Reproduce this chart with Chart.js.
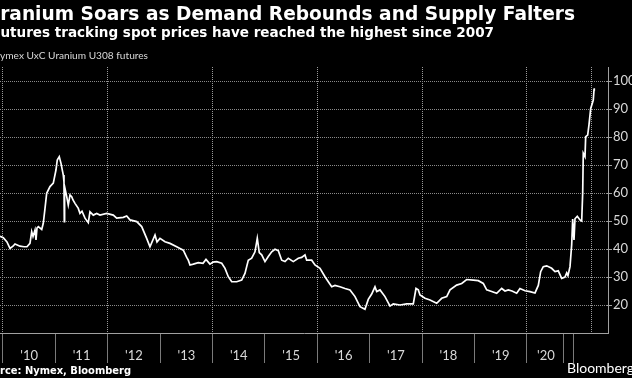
<!DOCTYPE html>
<html><head><meta charset="utf-8">
<script src="https://cdn.jsdelivr.net/npm/chart.js@4.4.0/dist/chart.umd.min.js"></script>
<style>html,body{margin:0;padding:0;background:#000;overflow:hidden}#wrap{position:relative;width:632px;height:378px}</style>
</head><body><div id="wrap"><canvas id="c"></canvas></div>
<script>
const titleText = "Uranium Soars as Demand Rebounds and Supply Falters";
const subtitleText = "Futures tracking spot prices have reached the highest since 2007";
const seriesName = "Nymex UxC Uranium U308 futures";
const sourceText = "Source: Nymex, Bloomberg";
const brandText = "Bloomberg";

// position along the drawn time axis (years) and price (USD/lb)
const positions = [2009.943,2010.006,2010.076,2010.134,2010.191,2010.229,2010.324,2010.401,2010.458,2010.515,2010.548,2010.573,2010.611,2010.630,2010.649,2010.674,2010.739,2010.769,2010.802,2010.834,2010.897,2010.960,2011.011,2011.036,2011.074,2011.107,2011.132,2011.151,2011.164,2011.170,2011.176,2011.216,2011.246,2011.279,2011.311,2011.336,2011.374,2011.437,2011.469,2011.508,2011.565,2011.628,2011.660,2011.723,2011.788,2011.851,2011.979,2012.105,2012.170,2012.296,2012.361,2012.424,2012.552,2012.647,2012.742,2012.805,2012.901,2012.939,2012.996,2013.092,2013.187,2013.315,2013.378,2013.441,2013.506,2013.536,2013.569,2013.632,2013.727,2013.817,2013.874,2013.950,2014.008,2014.078,2014.174,2014.237,2014.300,2014.365,2014.460,2014.555,2014.618,2014.681,2014.746,2014.809,2014.853,2014.891,2014.937,2015.000,2015.063,2015.128,2015.191,2015.254,2015.319,2015.382,2015.445,2015.540,2015.636,2015.700,2015.763,2015.796,2015.891,2015.954,2016.050,2016.145,2016.208,2016.273,2016.336,2016.431,2016.527,2016.622,2016.718,2016.813,2016.908,2016.971,2017.036,2017.099,2017.132,2017.195,2017.290,2017.386,2017.448,2017.576,2017.704,2017.830,2017.882,2017.926,2017.958,2018.053,2018.149,2018.277,2018.372,2018.468,2018.531,2018.658,2018.754,2018.849,2018.975,2019.071,2019.166,2019.231,2019.326,2019.422,2019.517,2019.580,2019.643,2019.714,2019.803,2019.866,2019.962,2020.057,2020.153,2020.216,2020.261,2020.311,2020.376,2020.471,2020.534,2020.597,2020.662,2020.725,2020.758,2020.782,2020.821,2020.853,2020.872,2020.897,2020.916,2020.960,2021.011,2021.044,2021.063,2021.074,2021.107,2021.120,2021.158,2021.183,2021.216,2021.246,2021.265,2021.279,2021.284];
const prices = [44.5,44.0,42.5,40.2,41.0,41.8,41.0,40.8,40.8,42.0,46.2,44.5,46.8,43.2,47.5,48.0,47.0,49.2,54.5,59.9,62.3,63.5,68.2,71.8,73.0,70.6,68.2,66.4,64.0,49.8,62.3,58.7,55.7,59.3,58.7,57.5,56.3,54.5,52.7,53.5,51.0,49.4,53.3,52.1,52.7,52.1,52.7,52.1,51.0,51.3,51.8,50.4,49.8,48.0,43.8,40.8,45.0,42.5,43.8,42.6,42.0,40.8,40.2,39.6,37.0,36.0,34.3,34.6,35.1,34.9,36.3,34.6,35.3,35.5,34.9,33.1,30.1,28.3,28.3,28.9,31.3,36.0,36.7,39.0,43.8,38.7,37.9,35.5,37.3,39.0,39.9,39.4,36.0,35.5,36.7,35.5,36.7,37.0,37.9,36.0,36.0,34.3,33.1,30.1,28.3,26.5,27.0,26.5,25.9,25.4,23.0,19.4,18.5,22.0,23.9,26.5,24.8,25.4,23.0,19.6,20.4,20.0,20.4,20.4,25.9,25.4,23.6,22.4,21.8,20.6,22.4,23.0,25.4,27.1,27.7,29.1,28.9,28.7,27.7,25.4,24.8,24.2,25.9,25.0,25.4,25.0,24.2,25.9,25.1,24.8,24.3,27.0,31.9,33.7,34.0,33.1,31.9,32.2,29.5,30.0,31.5,30.5,33.7,41.5,50.7,43.2,50.8,51.7,50.4,50.0,60.0,74.2,73.0,80.1,80.7,84.3,90.2,92.0,93.2,96.8,97.4];

const yearLabels = ["'10","'11","'12","'13","'14","'15","'16","'17","'18","'19","'20"];
const yearLabelAt = [2010.5,2011.5,2012.5,2013.5,2014.5,2015.5,2016.5,2017.5,2018.5,2019.5,2020.36];
const yearBreaks = [2010,2011,2012,2013,2014,2015,2016,2017,2018,2019,2020,2020.706,2020.897];
const gridBreaks = [2010,2012,2014,2016,2018,2020,2021.237];
const xRange = [2009.943, 2021.546];
const yRange = [10, 105];
const yTickValues = [10,20,30,40,50,60,70,80,90,100];
const yLabelled = [20,30,40,50,60,70,80,90,100];

const key = v => Number(v).toFixed(3);
const labelMap = {}; yearLabelAt.forEach((p,i)=>labelMap[key(p)] = yearLabels[i]);
const breakSet = new Set(yearBreaks.map(key));
const gridSet = new Set(gridBreaks.map(key));
const xTickValues = Array.from(new Set([...yearBreaks, ...gridBreaks, ...yearLabelAt].map(key))).map(Number).sort((a,b)=>a-b);

// horizontal grid lines and right-axis tick marks, placed through the y scale
const yGridPlugin = {
  id: 'yGrid',
  beforeDatasetsDraw(chart) {
    const ctx = chart.ctx, area = chart.chartArea, ys = chart.scales.y;
    ctx.save();
    ctx.lineWidth = 1;
    yLabelled.forEach(v => {
      const py = Math.round(ys.getPixelForValue(v)) + 0.5;
      ctx.strokeStyle = '#8a8a8a';
      ctx.setLineDash([1, 1]);
      ctx.beginPath(); ctx.moveTo(area.left, py); ctx.lineTo(area.right, py); ctx.stroke();
      ctx.setLineDash([]);
      ctx.strokeStyle = '#a0a0a0';
      ctx.beginPath(); ctx.moveTo(area.right - 1, py); ctx.lineTo(area.right + 4, py); ctx.stroke();
    });
    ctx.restore();
  }
};

const textPlugin = {
  id: 'texts',
  afterDraw(chart) {
    const ctx = chart.ctx;
    ctx.save();
    ctx.textBaseline = 'alphabetic';
    function fitRight(full, hidden, weight, family, rightX, baseline, color) {
      ctx.font = weight + ' 20px "' + family + '"';
      const w = ctx.measureText(full.slice(hidden)).width;
      const size = 20 * rightX / w;
      ctx.font = weight + ' ' + size.toFixed(2) + 'px "' + family + '"';
      ctx.textAlign = 'right';
      ctx.fillStyle = color;
      ctx.fillText(full, rightX, baseline);
    }
    fitRight(titleText, 1, 'bold', 'DejaVu Sans', 575, 20, '#ffffff');
    fitRight(subtitleText, 1, 'bold', 'DejaVu Sans', 494, 37, '#ffffff');
    fitRight(seriesName, 1, 'normal', 'Lato', 148, 59, '#d8d8d8');
    fitRight(sourceText, 3, 'bold', 'DejaVu Sans', 131, 374, '#ffffff');
    ctx.font = 'normal 14px "Lato"';
    ctx.textAlign = 'left';
    ctx.fillStyle = '#ffffff';
    ctx.fillText(brandText, 567, 373);
    ctx.restore();
  }
};

new Chart(document.getElementById('c'), {
  type: 'line',
  data: {
    datasets: [{
      label: seriesName,
      data: positions.map((p, i) => ({x: p, y: prices[i]})),
      borderColor: '#ffffff',
      borderWidth: 1.7,
      pointRadius: 0,
      tension: 0,
      fill: false
    }]
  },
  options: {
    responsive: true,
    maintainAspectRatio: false,
    animation: false,
    devicePixelRatio: 1,
    layout: {padding: {top: 67, left: 0, right: 0, bottom: 0}},
    plugins: {legend: {display: false}, tooltip: {enabled: false}},
    scales: {
      x: {
        type: 'linear', position: 'bottom', min: xRange[0], max: xRange[1],
        afterBuildTicks: s => { s.ticks = xTickValues.map(v => ({value: v})); },
        afterFit: s => { s.height = 45; },
        ticks: {
          autoSkip: false, maxRotation: 0, minRotation: 0, padding: -15,
          color: '#d8d8d8', font: {family: 'Lato', size: 13},
          callback: v => labelMap[key(v)] || ''
        },
        grid: {
          drawOnChartArea: true, tickLength: 30, lineWidth: 1, tickWidth: 1,
          color: c => (c.tick && gridSet.has(key(c.tick.value))) ? '#9a9a9a' : 'rgba(0,0,0,0)',
          tickColor: c => (c.tick && breakSet.has(key(c.tick.value))) ? '#7a7a7a' : 'rgba(0,0,0,0)'
        },
        border: {display: true, color: '#a0a0a0', width: 1, dash: [1, 1]}
      },
      y: {
        type: 'linear', position: 'right', min: yRange[0], max: yRange[1],
        afterBuildTicks: s => { s.ticks = yTickValues.map(v => ({value: v})); },
        afterFit: s => { s.width = 24; },
        ticks: {
          autoSkip: false, padding: 5, color: '#d8d8d8', font: {family: 'Lato', size: 13},
          callback: v => yLabelled.includes(v) ? String(v) : ''
        },
        grid: {display: false, drawTicks: false},
        border: {display: true, color: '#a0a0a0', width: 1}
      }
    }
  },
  plugins: [yGridPlugin, textPlugin]
});
</script></body></html>
